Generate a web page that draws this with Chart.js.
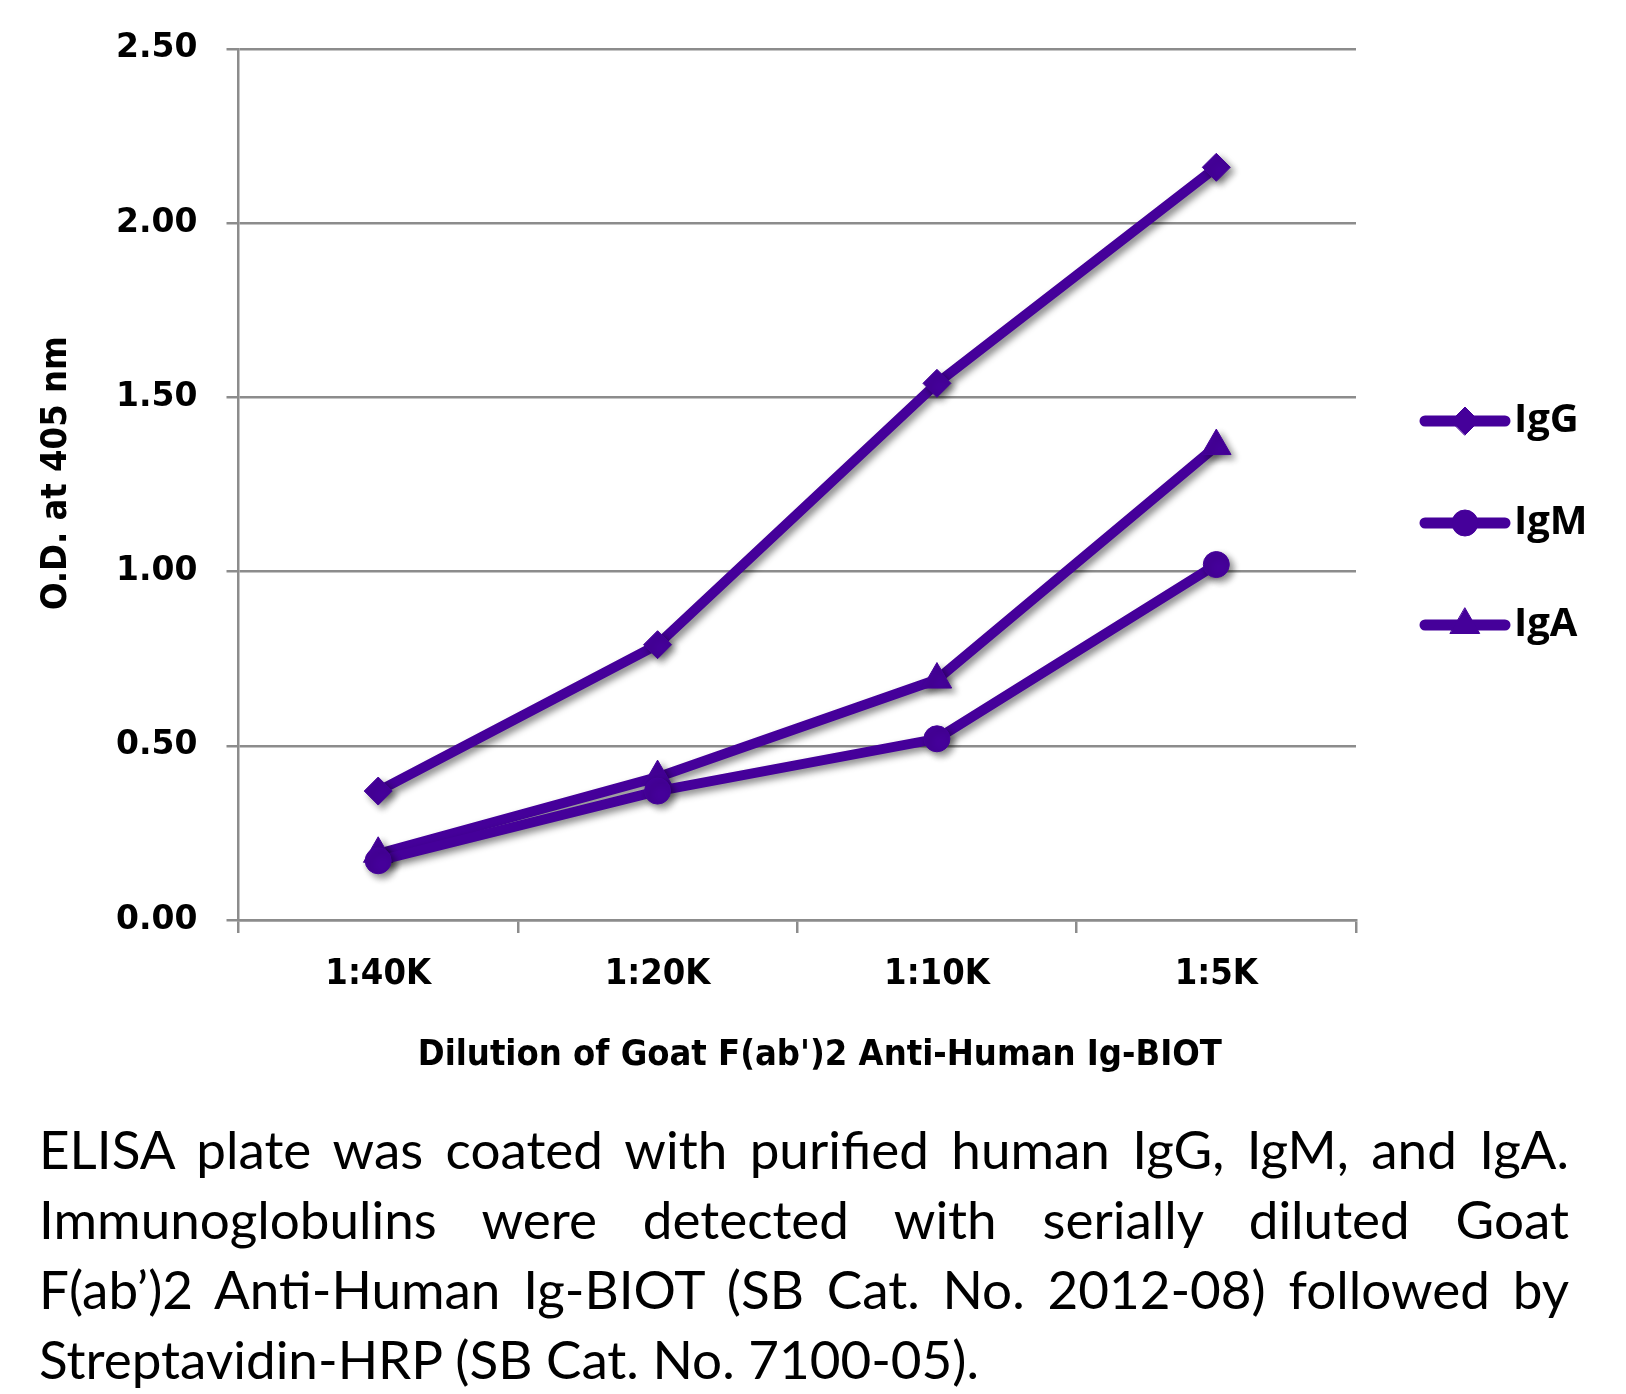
<!DOCTYPE html>
<html>
<head>
<meta charset="utf-8">
<script src="https://cdn.jsdelivr.net/npm/chart.js@4.4.0/dist/chart.umd.min.js"></script>
<style>
  body { margin: 0; background: #fff; }
  #wrap { position: relative; width: 1626px; height: 1394px; }
  #chart { position: absolute; left: 0; top: 0; }
  .caption { position: absolute; left: 39px; top: 1114px; width: 1530px;
    font-family: Lato, "Open Sans", sans-serif; font-size: 53px; line-height: 70px; color: #000; }
  .caption div { text-align: justify; text-align-last: justify; }
  .caption div.last { text-align-last: left; }
</style>
</head>
<body>
<div id="wrap">
  <canvas id="chart" width="1626" height="1080"></canvas>
  <div class="caption">
    <div>ELISA plate was coated with purified human IgG, IgM, and IgA.</div>
    <div>Immunoglobulins were detected with serially diluted Goat</div>
    <div>F(ab’)2 Anti-Human Ig-BIOT (SB Cat. No. 2012-08) followed by</div>
    <div class="last">Streptavidin-HRP (SB Cat. No. 7100-05).</div>
  </div>
</div>
<script>
// datos
const categories = ['1:40K', '1:20K', '1:10K', '1:5K'];
const seriesNames = ['IgG', 'IgM', 'IgA'];
const igG = [0.37, 0.79, 1.54, 2.16];
const igM = [0.17, 0.37, 0.52, 1.02];
const igA = [0.19, 0.41, 0.69, 1.36];
const yMin = 0;
const yMax = 2.5;
const yStep = 0.5;

const purple = '#45009A';
const gray = '#8c8c8c';

// sombra debajo de las lineas
const shadowPlugin = {
  id: 'shadow',
  beforeDatasetsDraw(chart) {
    const ctx = chart.ctx;
    ctx.save();
    ctx.shadowColor = 'rgba(0,0,0,0.45)';
    ctx.shadowBlur = 7;
    ctx.shadowOffsetX = 4;
    ctx.shadowOffsetY = 4;
  },
  afterDatasetsDraw(chart) {
    chart.ctx.restore();
  }
};

// leyenda a la derecha: linea + marcador + texto
const sideLegend = {
  id: 'sideLegend',
  afterDraw(chart) {
    const ctx = chart.ctx;
    chart.data.datasets.forEach(function (ds, i) {
      const y = 421 + i * 102;
      ctx.save();
      ctx.strokeStyle = ds.borderColor;
      ctx.fillStyle = ds.borderColor;
      ctx.lineWidth = 11;
      ctx.lineCap = 'round';
      ctx.beginPath();
      ctx.moveTo(1425, y);
      ctx.lineTo(1505, y);
      ctx.stroke();
      ctx.lineWidth = 1;
      Chart.helpers.drawPoint(ctx, { pointStyle: ds.pointStyle, radius: ds.pointRadius, borderWidth: 1, rotation: 0 }, 1465, y);
      ctx.fillStyle = '#000';
      ctx.font = 'bold 40px "Open Sans"';
      ctx.textBaseline = 'middle';
      ctx.textAlign = 'left';
      ctx.fillText(ds.label, 1514, y);
      ctx.restore();
    });
  }
};

function serie(label, data, style, radius) {
  return {
    label: label,
    data: data,
    borderColor: purple,
    backgroundColor: purple,
    borderWidth: 10,
    pointStyle: style,
    pointRadius: radius,
    pointBorderWidth: 1,
    pointBackgroundColor: purple,
    pointBorderColor: purple,
    tension: 0
  };
}

new Chart(document.getElementById('chart'), {
  type: 'line',
  data: {
    labels: categories,
    datasets: [
      serie(seriesNames[0], igG, 'rectRot', 14),
      serie(seriesNames[1], igM, 'circle', 13),
      serie(seriesNames[2], igA, 'triangle', 17)
    ]
  },
  options: {
    responsive: false,
    animation: false,
    events: [],
    layout: { padding: { left: 0, right: 270, top: 48, bottom: 0 } },
    plugins: {
      legend: { display: false },
      tooltip: { enabled: false }
    },
    scales: {
      x: {
        type: 'category',
        offset: true,
        grid: { drawOnChartArea: false, drawTicks: true, tickLength: 13, color: gray, lineWidth: 2.5, offset: true },
        border: { color: gray, width: 2.5 },
        ticks: { color: '#000', padding: 20, font: { family: '"DejaVu Sans Condensed"', weight: 'bold', size: 36 } },
        title: {
          display: true,
          text: "\u00a0\u00a0\u00a0\u00a0Dilution of Goat F(ab')2 Anti-Human Ig-BIOT",
          color: '#000',
          padding: { top: 0, bottom: 3 },
          font: { family: '"DejaVu Sans Condensed"', weight: 'bold', size: 36 }
        },
        afterFit: function (scale) { scale.height = 160; }
      },
      y: {
        min: yMin,
        max: yMax,
        grid: { color: gray, lineWidth: 2.5, tickLength: 12 },
        border: { color: gray, width: 2.5 },
        ticks: {
          stepSize: yStep,
          color: '#000',
          padding: 29,
          font: { family: '"DejaVu Sans"', weight: 'bold', size: 33 },
          callback: function (v) { return v.toFixed(2); }
        },
        title: {
          display: true,
          text: '\u00a0\u00a0O.D. at 405 nm',
          color: '#000',
          padding: { top: 35, bottom: 0 },
          font: { family: '"DejaVu Sans Condensed"', weight: 'bold', size: 36 }
        },
        afterFit: function (scale) { scale.width = 238.5; }
      }
    }
  },
  plugins: [shadowPlugin, sideLegend]
});
</script>
</body>
</html>
